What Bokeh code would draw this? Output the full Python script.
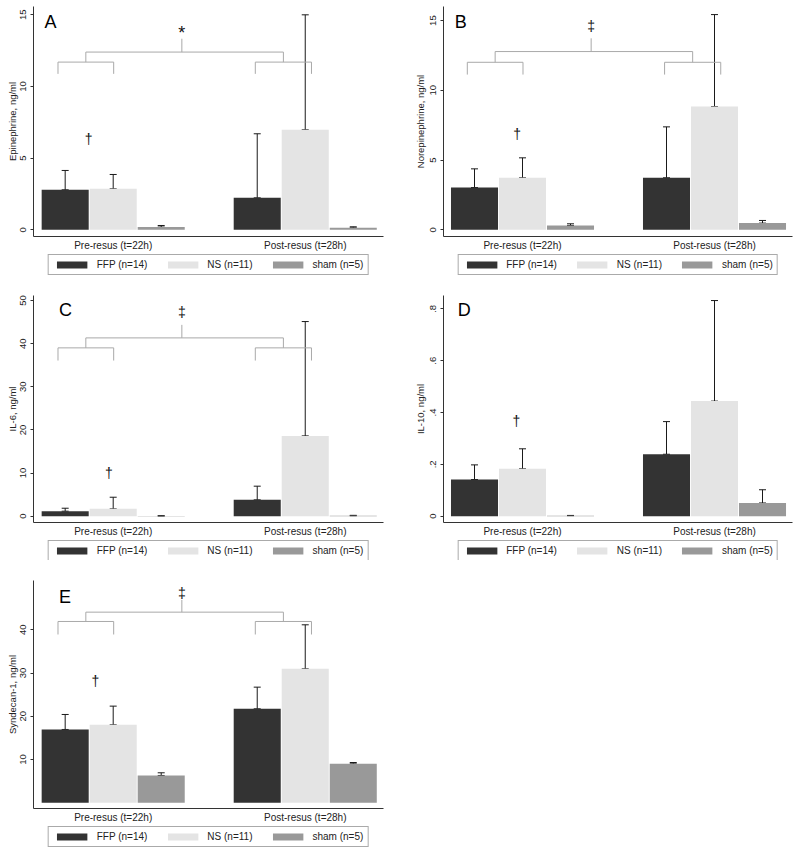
from bokeh.plotting import figure
from bokeh.models import (Range1d, FixedTicker, Legend, LegendItem, Whisker,
                          TeeHead, ColumnDataSource)
from bokeh.layouts import column, row
from bokeh.embed import file_html
from bokeh.resources import INLINE
from bokeh.core.properties import value

# ---------------- data ----------------
groups = ["Pre-resus (t=22h)", "Post-resus (t=28h)"]
series = ["FFP (n=14)", "NS (n=11)", "sham (n=5)"]

# A - Epinephrine, ng/ml (mean, SD)
epi_ffp = [2.79, 2.23]
epi_ffp_sd = [1.35, 4.47]
epi_ns = [2.86, 6.98]
epi_ns_sd = [1.00, 8.02]
epi_sham = [0.19, 0.14]
epi_sham_sd = [0.11, 0.07]
epi_ticks = [0, 5, 10, 15]

# B - Norepinephrine, ng/ml
nor_ffp = [3.03, 3.73]
nor_ffp_sd = [1.34, 3.65]
nor_ns = [3.73, 8.84]
nor_ns_sd = [1.43, 6.59]
nor_sham = [0.31, 0.48]
nor_sham_sd = [0.12, 0.19]
nor_ticks = [0, 5, 10, 15]

# C - IL-6, ng/ml
il6_ffp = [1.16, 3.79]
il6_ffp_sd = [0.69, 3.17]
il6_ns = [1.70, 18.62]
il6_ns_sd = [2.70, 26.51]
il6_sham = [0.05, 0.10]
il6_sham_sd = [0.05, 0.10]
il6_ticks = [0, 10, 20, 30, 40, 50]

# D - IL-10, ng/ml
il10_ffp = [0.1415, 0.239]
il10_ffp_sd = [0.0565, 0.126]
il10_ns = [0.183, 0.444]
il10_ns_sd = [0.077, 0.388]
il10_sham = [0.002, 0.051]
il10_sham_sd = [0.001, 0.051]
il10_ticks = [0, 0.2, 0.4, 0.6, 0.8]
il10_tick_labels = ["0", ".2", ".4", ".6", ".8"]

# E - Syndecan-1, ng/ml
syn_ffp = [16.94, 21.72]
syn_ffp_sd = [3.47, 5.01]
syn_ns = [18.02, 30.97]
syn_ns_sd = [4.32, 10.18]
syn_sham = [6.30, 9.00]
syn_sham_sd = [0.62, 0.30]
syn_ticks = [10, 20, 30, 40]

# significance bracket levels (foot, arm, bar, stem top)
epi_bracket = [10.88, 11.70, 12.40, 13.33]
nor_bracket = [11.13, 12.01, 12.78, 13.73]
il6_bracket = [36.09, 39.03, 41.34, 44.36]
syn_bracket = [38.91, 41.92, 44.08, 46.93]

# ---------------- style ----------------
FONT_NAME = "Liberation Sans"
FONT = value(FONT_NAME)
COLORS = ["#333333", "#e4e4e4", "#999999"]
AXIS_COL = "#333333"
BRACKET_COL = "#a9a9a9"
INK = "#1a1a1a"


def legend_strip(width, height, bl, br):
    # a thin strip under each panel that only carries the legend;
    # its swatch renderers sit outside the strip's visible range
    q = figure(width=width, height=height, output_backend="svg",
               toolbar_location=None, x_axis_type=None, y_axis_type=None,
               x_range=Range1d(0, 1), y_range=Range1d(0, 1),
               min_border_left=bl, min_border_right=br,
               min_border_top=0, min_border_bottom=0)
    q.grid.visible = False
    q.outline_line_color = None
    items = []
    for i, name in enumerate(series):
        r = q.vbar(x=[-5], top=[0], bottom=0, width=1,
                   fill_color=COLORS[i], line_color=None)
        items.append(LegendItem(label=name, renderers=[r]))
    legend = Legend(items=items, orientation="horizontal", location="top_center",
                    glyph_width=38, glyph_height=9, label_standoff=6,
                    spacing=16, padding=4, margin=1,
                    border_line_color="#555555", border_line_width=1,
                    background_fill_color="white", background_fill_alpha=1,
                    label_text_font=FONT_NAME, label_text_font_size="10px",
                    label_text_color="#222222")
    q.add_layout(legend)
    return q


def panel(letter, letter_pos, ylabel, means, sds, y_range, x_range, yticks,
          tick_labels, dagger_pos, bracket, sig, sig_y, sig_size,
          width, height, bl, br, bt, bb, tick_standoff, title_standoff, leg_h):
    p = figure(width=width, height=height, output_backend="svg",
               toolbar_location=None, x_range=Range1d(*x_range),
               y_range=Range1d(*y_range), min_border_left=bl,
               min_border_right=br, min_border_top=bt, min_border_bottom=bb)
    p.grid.visible = False
    p.outline_line_color = None
    p.background_fill_color = "white"

    for s, (m, sd) in enumerate(zip(means, sds)):
        xs = [g * 4 + s + 0.5 for g in range(len(groups))]
        up = [a + b for a, b in zip(m, sd)]
        src = ColumnDataSource(dict(x=xs, top=m, up=up))
        p.vbar(x="x", top="top", bottom=0, width=0.98, source=src,
               fill_color=COLORS[s], line_color=None)
        w = Whisker(source=src, base="x", lower="top", upper="up",
                    line_color=INK, line_width=1,
                    upper_head=TeeHead(size=7, line_color=INK, line_width=1),
                    lower_head=TeeHead(size=7, line_color=INK, line_width=1))
        p.add_layout(w)

    if bracket is not None:
        y0, y1, y2, y3 = bracket
        xs = [[0.35, 0.35, 1.51, 1.51], [4.46, 4.46, 5.63, 5.63],
              [0.93, 0.93, 5.045, 5.045], [2.93, 2.93]]
        ys = [[y0, y1, y1, y0], [y0, y1, y1, y0], [y1, y2, y2, y1], [y2, y3]]
        p.multi_line(xs, ys, line_color=BRACKET_COL, line_width=1)
        p.text(x=[2.93], y=[sig_y], text=[sig], text_font=FONT,
               text_font_size=sig_size, text_align="center",
               text_baseline="middle", text_color="#111111")

    p.text(x=[dagger_pos[0]], y=[dagger_pos[1]], text=["\u2020"], text_font=FONT,
           text_font_size="14px", text_align="center", text_baseline="middle",
           text_color="#111111")
    p.text(x=[letter_pos[0]], y=[letter_pos[1]], text=[letter], text_font=FONT,
           text_font_size="18px", text_align="left", text_baseline="middle",
           text_color="#000000")

    # y axis
    ya = p.yaxis[0]
    ya.ticker = FixedTicker(ticks=yticks)
    if tick_labels is not None:
        ya.major_label_overrides = {t: l for t, l in zip(yticks, tick_labels)}
    ya.major_label_orientation = "vertical"
    ya.major_label_text_font = FONT_NAME
    ya.major_label_text_font_size = "9.5px"
    ya.major_label_text_color = "#222222"
    ya.major_label_standoff = tick_standoff
    ya.major_tick_out = 3
    ya.major_tick_in = 0
    ya.minor_tick_out = 0
    ya.minor_tick_in = 0
    ya.axis_line_color = AXIS_COL
    ya.major_tick_line_color = AXIS_COL
    ya.axis_label = ylabel
    ya.axis_label_text_font = FONT_NAME
    ya.axis_label_text_font_size = "9.5px"
    ya.axis_label_text_font_style = "normal"
    ya.axis_label_text_color = "#222222"
    ya.axis_label_standoff = title_standoff

    # x axis
    xa = p.xaxis[0]
    xa.ticker = FixedTicker(ticks=[1.5, 5.5])
    xa.major_label_overrides = {1.5: groups[0], 5.5: groups[1]}
    xa.major_label_text_font = FONT_NAME
    xa.major_label_text_font_size = "10px"
    xa.major_label_text_color = "#222222"
    xa.major_label_standoff = 3
    xa.major_tick_out = 0
    xa.major_tick_in = 0
    xa.minor_tick_out = 0
    xa.minor_tick_in = 0
    xa.axis_line_color = AXIS_COL

    return column(p, legend_strip(width, leg_h, bl, br), spacing=0)


XR1 = (-0.16, 7.13)
XR2 = (-0.146, 7.125)

pa = panel("A", (0.07, 14.5), "Epinephrine, ng/ml",
           [epi_ffp, epi_ns, epi_sham], [epi_ffp_sd, epi_ns_sd, epi_sham_sd],
           (-0.468, 15.58), XR1, epi_ticks, None, (0.99, 6.35),
           epi_bracket, "*", 13.7, "18px",
           400, 253, 33, 17, 6, 17, 4, 0, 27)

pb = panel("B", (0.09, 14.93), "Norepinephrine, ng/ml",
           [nor_ffp, nor_ns, nor_sham], [nor_ffp_sd, nor_ns_sd, nor_sham_sd],
           (-0.48, 16.01), XR2, nor_ticks, None, (1.39, 6.88),
           nor_bracket, "\u2021", 14.64, "14px",
           400, 253, 43, 8, 6, 17, 4, 2, 27)

pc = panel("C", (0.37, 47.76), "IL-6, ng/ml",
           [il6_ffp, il6_ns, il6_sham], [il6_ffp_sd, il6_ns_sd, il6_sham_sd],
           (-1.46, 51.17), XR1, il6_ticks, None, (1.41, 9.97),
           il6_bracket, "\u2021", 47.45, "14px",
           400, 259, 33, 17, 15, 17, 4, 0, 21)

pd = panel("D", (0.15, 0.795), "IL-10, ng/ml",
           [il10_ffp, il10_ns, il10_sham], [il10_ffp_sd, il10_ns_sd, il10_sham_sd],
           (-0.0243, 0.8515), XR2, il10_ticks, il10_tick_labels, (1.375, 0.369),
           None, None, None, None,
           400, 259, 43, 8, 15, 17, 4, 2, 21)

pe = panel("E", (0.37, 47.5), "Syndecan-1, ng/ml",
           [syn_ffp, syn_ns, syn_sham], [syn_ffp_sd, syn_ns_sd, syn_sham_sd],
           (-1.34, 51.4), XR1, syn_ticks, None, (1.13, 28.04),
           syn_bracket, "\u2021", 48.47, "14px",
           400, 265, 33, 17, 20, 17, 4, 0, 22)

layout = column(row(pa, pb, spacing=0), row(pc, pd, spacing=0), pe, spacing=0)

open("out.html", "w").write(file_html(layout, INLINE))
